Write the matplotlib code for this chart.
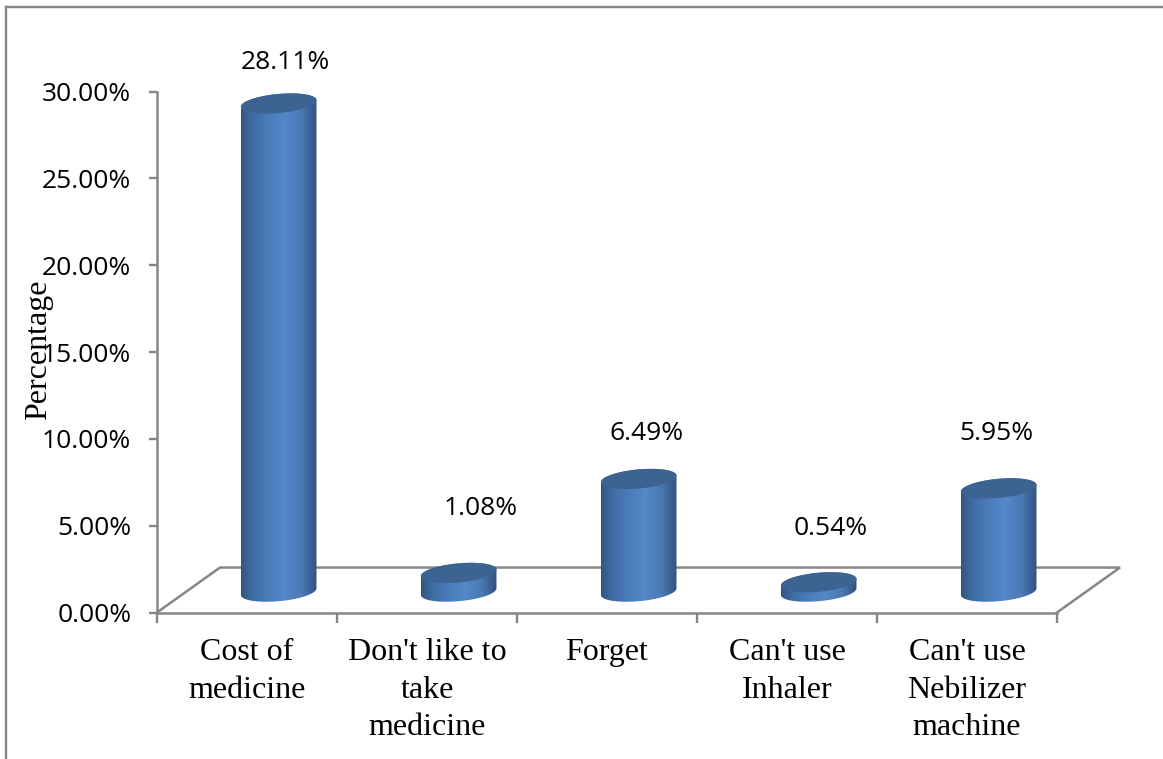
import numpy as np
import matplotlib
matplotlib.use("Agg")
import matplotlib.pyplot as plt
from matplotlib.colors import LinearSegmentedColormap
from matplotlib.lines import Line2D
from matplotlib.patches import Polygon
from matplotlib.ticker import FuncFormatter

categories = ["Cost of\nmedicine", "Don't like to\ntake\nmedicine", "Forget",
              "Can't use\nInhaler", "Can't use\nNebilizer\nmachine"]
values = [28.11, 1.08, 6.49, 0.54, 5.95]
y_ticks = [0, 5, 10, 15, 20, 25, 30]
label_offsets_px = [(7, 41), (22, 64), (8, 45), (12, 54), (-2, 55)]

W, H = 1163, 759
GREY = "#868686"
fig = plt.figure(figsize=(W / 100, H / 100), dpi=100, facecolor="white")
ax = fig.add_axes([157 / W, 1 - 612.5 / H, 900 / W, 521 / H])
ax.set_xlim(0.5, 5.5)
ax.set_ylim(0, 30)

# outer chart frame
fig.add_artist(Line2D([6 / W, 6 / W], [0, 1 - 7 / H], color=GREY, lw=1.7))
fig.add_artist(Line2D([6 / W, 1], [1 - 7 / H, 1 - 7 / H], color=GREY, lw=1.7))

# pseudo-3D floor, expressed in axis units
depth_x, depth_y = 0.35, 2.59
ax.plot([0.5, 0.5 + depth_x, 5.5 + depth_x, 5.5], [0, depth_y, depth_y, 0],
        color=GREY, lw=1.8, clip_on=False, zorder=1, solid_joinstyle="miter")

# cylinders
half_w, ell_b, ell_k = 0.21, 0.55, 0.19
shift_x, base_y = 0.176, 1.2
cmap = LinearSegmentedColormap.from_list(
    "cyl", [(0, "#31557f"), (0.12, "#3d699e"), (0.35, "#4a7cb9"), (0.58, "#5388ca"),
            (0.8, "#4a79b2"), (0.93, "#3b5f91"), (1, "#31527c")])
grad = np.linspace(0, 1, 256).reshape(1, -1)


def arc(cx, cy, t):
    return np.column_stack([cx + half_w * np.cos(t),
                            cy + ell_b * np.sin(t) + ell_k * np.cos(t)])


for i, v in enumerate(values):
    cx = i + 1 + shift_x
    top = base_y + v
    lower = arc(cx, base_y, np.linspace(np.pi, 2 * np.pi, 60))
    upper = arc(cx, top, np.linspace(0, np.pi, 60))
    body = Polygon(np.vstack([lower, upper]), closed=True, transform=ax.transData,
                   fc="none", ec="none")
    ax.add_patch(body)
    im = ax.imshow(grad, cmap=cmap, aspect="auto", zorder=3, interpolation="bilinear",
                   extent=[cx - half_w, cx + half_w, base_y - 1, top + 1])
    im.set_clip_path(body)
    cap = arc(cx, top, np.linspace(0, 2 * np.pi, 120))
    ax.add_patch(Polygon(cap, closed=True, fc="#3c6391", ec="none", zorder=4))
    dx, dy = label_offsets_px[i]
    ax.annotate(f"{v:.2f}%", (cx, top), xytext=(dx * 0.72, dy * 0.72),
                textcoords="offset points", ha="center", va="center",
                family="Open Sans", fontsize=19, color="black", zorder=5)

ax.set_xlim(0.5, 5.5)
ax.set_ylim(0, 30)

for s in ("top", "right"):
    ax.spines[s].set_visible(False)
for s in ("left", "bottom"):
    ax.spines[s].set_color(GREY)
    ax.spines[s].set_linewidth(1.8)

ax.set_yticks(y_ticks)
ax.yaxis.set_major_formatter(FuncFormatter(lambda y, _: f"{y:.2f}%"))
ax.tick_params(axis="y", length=6, width=1.7, color=GREY, pad=12.5, labelsize=19)
for t in ax.get_yticklabels():
    t.set_family("Open Sans")

ax.set_xticks(np.arange(0.5, 6))
ax.set_xticks(np.arange(1, 6), labels=categories, minor=True)
ax.tick_params(axis="x", which="major", length=7, width=1.7, color=GREY, labelbottom=False)
ax.tick_params(axis="x", which="minor", length=0, pad=18.5, labelsize=23)
for t in ax.get_xticklabels(minor=True):
    t.set_family("Liberation Serif")
    t.set_linespacing(1.38)

ax.set_ylabel("Percentage", family="Liberation Serif", fontsize=23)
ax.yaxis.set_label_coords((53 - 157) / 900, (612 - 349) / 521)

fig.savefig("out.png", dpi=100)
